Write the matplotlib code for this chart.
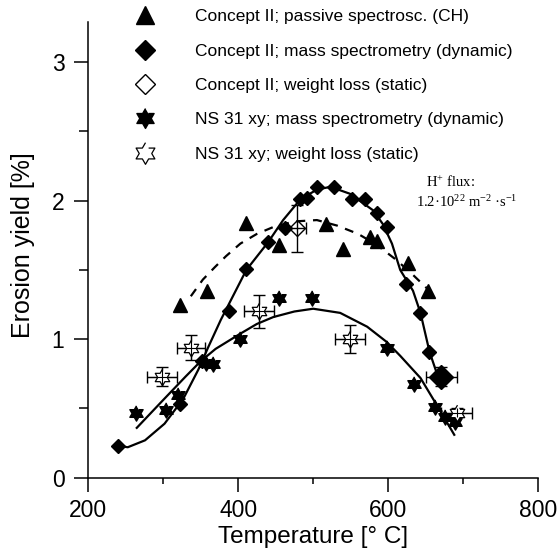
import numpy as np
import matplotlib
matplotlib.use("Agg")
import matplotlib.pyplot as plt

plt.rcParams['font.family'] = ['Liberation Sans', 'DejaVu Sans']
plt.rcParams['mathtext.fontset'] = 'custom'
plt.rcParams['mathtext.rm'] = 'Liberation Serif'
plt.rcParams['mathtext.it'] = 'Liberation Serif:italic'

# Concept II; passive spectroscopy (CH)
tri_T = [323, 359, 411, 455, 517, 540, 576, 585, 627, 653]
tri_Y = [1.25, 1.35, 1.84, 1.68, 1.83, 1.65, 1.74, 1.71, 1.55, 1.35]

# Concept II; mass spectrometry (dynamic)
dia_T = [240, 322, 352, 388, 411, 440, 463, 483, 492, 505, 528, 552, 569, 585, 598, 624, 643, 655]
dia_Y = [0.23, 0.53, 0.84, 1.20, 1.51, 1.70, 1.80, 2.01, 2.02, 2.10, 2.10, 2.01, 2.01, 1.91, 1.81, 1.40, 1.19, 0.91]
# large point with error bars
big_T = [671]
big_Y = [0.73]
big_xerr = [20]
big_yerr = [0.07]

# Concept II; weight loss (static)
odia_T = [478]
odia_Y = [1.80]
odia_xerr = [13]
odia_yerr = [0.17]

# NS 31 xy; mass spectrometry (dynamic)
star_T = [264, 304, 320, 357, 366, 403, 454, 499, 599, 634, 663, 676, 689]
star_Y = [0.47, 0.49, 0.60, 0.83, 0.82, 1.00, 1.30, 1.30, 0.94, 0.68, 0.51, 0.44, 0.40]

# NS 31 xy; weight loss (static)
ostar_T = [299, 337, 428, 549, 691]
ostar_Y = [0.73, 0.94, 1.20, 1.00, 0.47]
ostar_xerr = [20, 19, 20, 20, 20]
ostar_yerr = [0.07, 0.09, 0.12, 0.10, 0.03]

# fitted curves
c2_T = [240, 253, 276, 302, 327, 347, 360, 377, 394, 411, 440, 460, 483, 505, 523, 549, 580, 593, 605, 616, 633, 643, 655, 665, 671]
c2_Y = [0.23, 0.22, 0.27, 0.39, 0.57, 0.78, 0.94, 1.14, 1.32, 1.50, 1.70, 1.86, 2.01, 2.08, 2.10, 2.05, 1.93, 1.83, 1.69, 1.50, 1.35, 1.19, 0.91, 0.75, 0.72]

ns_T = [265, 300, 330, 350, 370, 403, 425, 447, 475, 500, 536, 572, 598, 616, 643, 663, 688]
ns_Y = [0.36, 0.56, 0.73, 0.84, 0.93, 1.04, 1.11, 1.16, 1.20, 1.22, 1.19, 1.09, 0.98, 0.88, 0.72, 0.54, 0.31]

dash_T = [337, 353, 369, 384, 403, 425, 447, 475, 505, 532, 560, 585, 609, 630, 653]
dash_Y = [1.31, 1.43, 1.52, 1.60, 1.69, 1.76, 1.81, 1.85, 1.86, 1.82, 1.76, 1.68, 1.58, 1.48, 1.36]

labels = ["Concept II; passive spectrosc. (CH)",
          "Concept II; mass spectrometry (dynamic)",
          "Concept II; weight loss (static)",
          "NS 31 xy; mass spectrometry (dynamic)",
          "NS 31 xy; weight loss (static)"]

# six-pointed star marker
ang = np.deg2rad(90 + 30 * np.arange(12))
rad = np.where(np.arange(12) % 2 == 0, 1.0, 0.577)
hexagram = list(zip(rad * np.cos(ang), rad * np.sin(ang)))

fig = plt.figure(figsize=(5.59, 5.54), dpi=100)
ax = fig.add_axes([0.1574, 0.1377, 0.8056, 0.8226])

ax.plot(c2_T, c2_Y, color='black', lw=1.6, zorder=2)
ax.plot(ns_T, ns_Y, color='black', lw=1.6, zorder=2)
ax.plot(dash_T, dash_Y, color='black', lw=1.6, ls=(0, (4, 3.5)), zorder=2)

h_tri, = ax.plot(tri_T, tri_Y, ls='none', marker='^', ms=10, color='black', zorder=3)
h_dia, = ax.plot(dia_T, dia_Y, ls='none', marker='D', ms=7.5, color='black', zorder=3)
h_star, = ax.plot(star_T, star_Y, ls='none', marker=hexagram, ms=11, color='black', zorder=3)

ax.errorbar(big_T, big_Y, xerr=big_xerr, yerr=big_yerr, fmt='D', ms=12, color='black',
            elinewidth=1, capsize=4, capthick=1, zorder=4)
ax.errorbar(odia_T, odia_Y, xerr=odia_xerr, yerr=odia_yerr, fmt='none', ecolor='black',
            elinewidth=1, capsize=4, capthick=1, zorder=4)
h_odia, = ax.plot(odia_T, odia_Y, ls='none', marker='D', ms=8, mfc='none', mec='black', mew=1, zorder=5)
ax.errorbar(ostar_T, ostar_Y, xerr=ostar_xerr, yerr=ostar_yerr, fmt='none', ecolor='black',
            elinewidth=1, capsize=4, capthick=1, zorder=4)
h_ostar, = ax.plot(ostar_T, ostar_Y, ls='none', marker=hexagram, ms=12, mfc='white', mec='black', mew=0.9, zorder=5)
ax.errorbar(ostar_T, ostar_Y, xerr=ostar_xerr, yerr=ostar_yerr, fmt='none', ecolor='black',
            elinewidth=0.8, capsize=0, zorder=6)

ax.set_xlim(200, 800)
ax.set_ylim(0, 3.29)
ax.set_xticks([200, 400, 600, 800])
ax.set_xticks([300, 500, 700], minor=True)
ax.set_yticks([0, 1, 2, 3])
ax.set_yticks([0.5, 1.5, 2.5], minor=True)
for s in ['top', 'right']:
    ax.spines[s].set_visible(False)
for s in ['left', 'bottom']:
    ax.spines[s].set_linewidth(1.1)
ax.tick_params(axis='both', which='both', direction='out', width=1.1, labelsize=16.5)
ax.tick_params(axis='x', which='major', length=10, pad=5)
ax.tick_params(axis='x', which='minor', length=4.3)
ax.tick_params(axis='y', which='major', length=10, pad=7)
ax.tick_params(axis='y', which='minor', length=6.2)

ax.set_xlabel("Temperature [° C]", fontsize=17.5, labelpad=3)
ax.set_ylabel("Erosion yield [%]", fontsize=18)
ax.yaxis.set_label_coords(-0.118, 0.51)

ax.text(683, 2.13, "H$^{+}$ flux:", fontsize=10.5, family='Liberation Serif', ha='center', va='center')
ax.text(704, 1.99, "1.2·10$^{22}$ m$^{-2}$ ·s$^{-1}$", fontsize=10.5, family='Liberation Serif',
        ha='center', va='center')

fig.legend([h_tri, h_dia, h_odia, h_star, h_ostar], labels, loc='upper left',
           bbox_to_anchor=(131.5 / 559, 1 - 9 / 554), frameon=False, fontsize=12.5,
           handlelength=1.55, handletextpad=2.1, labelspacing=1.11, borderpad=0,
           borderaxespad=0, numpoints=1, markerscale=1.3)

fig.savefig("out.png", dpi=100)
